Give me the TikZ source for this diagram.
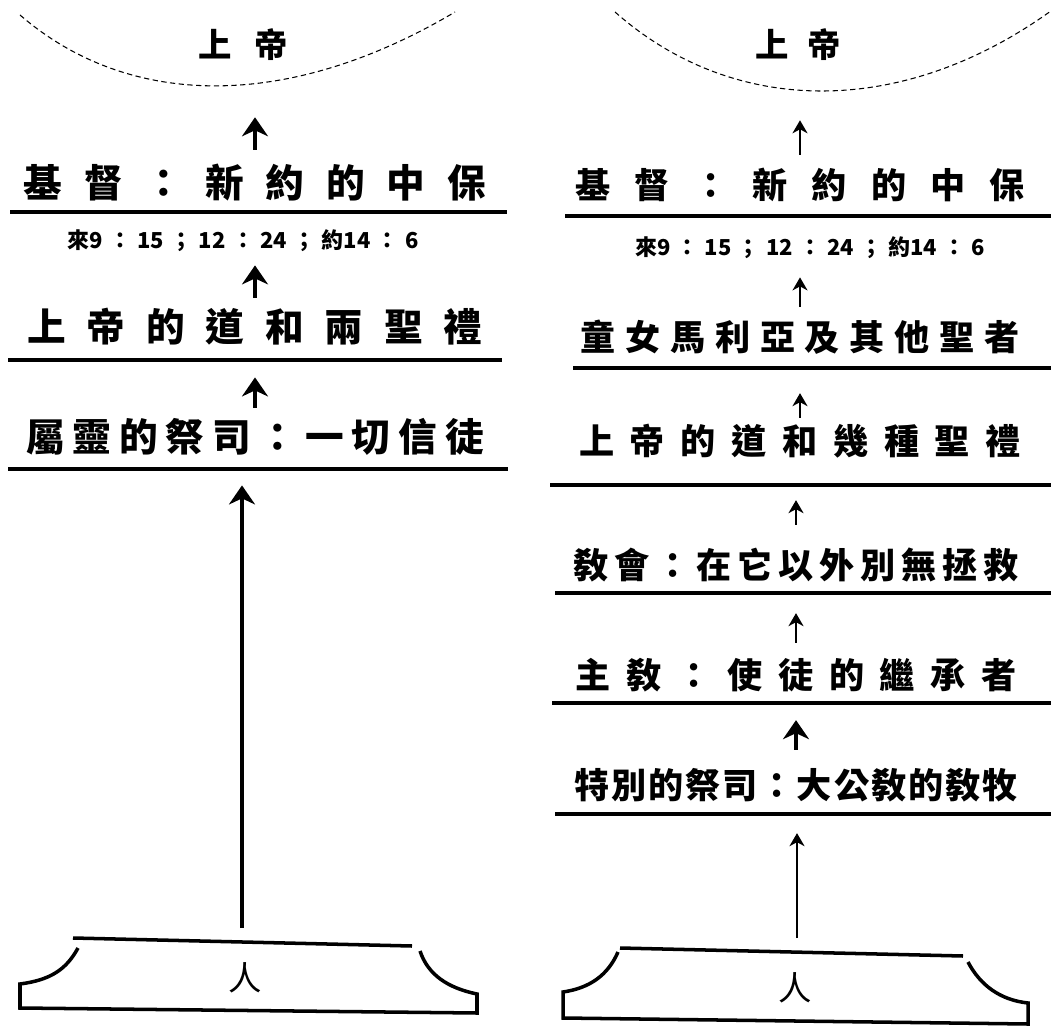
\documentclass[tikz,border=0pt]{standalone}
\usepackage{fontspec}
\newfontfamily\cjk{Noto Sans CJK TC}
\usepackage{tikz}
\usetikzlibrary{arrows.meta, calc}

% spread the glyphs of a line evenly over a given width
\newcommand\spreadline[2]{\makebox[#1][s]{\spreadfirst#2\relax}}
\def\spreadfirst#1{#1\spreadrest}
\def\spreadrest#1{\ifx#1\relax\else\hfil#1\expandafter\spreadrest\fi}

\begin{document}
\begin{tikzpicture}[x=0.02cm, y=-0.02cm,
    godlabel/.style={font=\cjk\bfseries\fontsize{19}{19}\selectfont, inner sep=0pt, text height=15.72pt, text depth=1.28pt},
    bigline/.style={font=\cjk\bfseries\fontsize{22}{22}\selectfont, inner sep=0pt, text height=18.36pt, text depth=1.64pt},
    smallline/.style={font=\cjk\bfseries\fontsize{20}{20}\selectfont, inner sep=0pt, text height=16.6pt, text depth=1.4pt},
    refline/.style={font=\cjk\bfseries\fontsize{12.5}{12.5}\selectfont, inner sep=0pt, text height=10.75pt, text depth=1.25pt},
    manlabel/.style={font=\cjk\fontsize{19}{19}\selectfont, inner sep=0pt},
    heaven/.style={line width=0.6pt, dash pattern=on 3pt off 2pt},
    rule/.style={line width=1.9pt},
    base/.style={line width=2pt, line join=miter},
    upbig/.style={-{Stealth[length=0.38cm, width=0.52cm, inset=0.12cm]}, line width=1.8pt},
    upsmall/.style={-{Stealth[length=0.26cm, width=0.3cm, inset=0.08cm]}, line width=1.2pt}]
  \useasboundingbox (0,0) rectangle (1051,1030);

  % Left column
  \draw[heaven] (20,15) .. controls (130,110) and (290,110) .. (455,12);
  \node[godlabel] (lgod) at (243,45) {\spreadline{1.8cm}{上帝}};
  \node[bigline] (l1) at (255,183) {\spreadline{9.25cm}{基督：新約的中保}};
  \draw[rule] (10,212) -- (507,212);
  \node[refline] (lref) at (243,240) {\makebox[7.02cm][s]{來9\hfil ：\hfil 15\hfil ；\hfil 12\hfil ：\hfil 24\hfil ；\hfil 約14\hfil ：\hfil 6}};
  \node[bigline] (l2) at (255,327) {\spreadline{9.1cm}{上帝的道和兩聖禮}};
  \draw[rule] (8,360) -- (502,360);
  \node[bigline] (l3) at (255,437) {\spreadline{9.15cm}{屬靈的祭司：一切信徒}};
  \draw[rule] (8,469) -- (508,469);
  \draw[upbig, shorten <=0.31cm, shorten >=1.14cm] (l1.north) -- (l1.north |- lgod.south);
  \draw[upbig, shorten <=0.23cm, shorten >=0.29cm] (l2.north) -- (l2.north |- lref.south);
  \draw[upbig, shorten <=0.23cm, shorten >=0.65cm] (l3.north) -- (l3.north |- l2.south);
  % the man
  \draw[base] (73,938) -- (412,946);
  \draw[base] (78,948) .. controls (66,970) and (50,980) .. (20,984) -- (20,1008) -- (477,1013)
    -- (477,994) .. controls (448,988) and (428,975) .. (420,951);
  \node[manlabel] (lman) at (245,978) {人};
  \coordinate (ltop) at (242,928);
  \draw[upbig, shorten >=0.61cm] (ltop) -- (ltop |- l3.south);

  % Right column
  \draw[heaven] (615,12) .. controls (735,118) and (905,118) .. (1055,8);
  \node[godlabel] (rgod) at (798,45) {\spreadline{1.7cm}{上帝}};
  \node[smallline] (r1) at (800,185) {\spreadline{8.98cm}{基督：新約的中保}};
  \draw[rule] (565,216) -- (1051,216);
  \node[refline] (rref) at (810,247) {\makebox[7cm][s]{來9\hfil ：\hfil 15\hfil ；\hfil 12\hfil ：\hfil 24\hfil ；\hfil 約14\hfil ：\hfil 6}};
  \node[smallline] (r2) at (800,337) {\spreadline{8.78cm}{童女馬利亞及其他聖者}};
  \draw[rule] (573,368) -- (1051,368);
  \node[smallline] (r3) at (800,441) {\spreadline{8.84cm}{上帝的道和幾種聖禮}};
  \draw[rule] (550,485) -- (1051,485);
  \node[smallline] (r4) at (796,565) {\spreadline{8.92cm}{敎會：在它以外別無拯救}};
  \draw[rule] (555,593) -- (1051,593);
  \node[smallline] (r5) at (796,675) {\spreadline{8.82cm}{主敎：使徒的繼承者}};
  \draw[rule] (552,703) -- (1051,703);
  \node[smallline] (r6) at (796,785) {\spreadline{8.86cm}{特別的祭司：大公敎的敎牧}};
  \draw[rule] (555,814) -- (1051,814);
  \draw[upsmall, shorten <=0.28cm, shorten >=1.2cm] (r1.north) -- (r1.north |- rgod.south);
  \draw[upsmall, shorten <=0.28cm, shorten >=0.39cm] (r2.north) -- (r2.north |- rref.south);
  \draw[upsmall, shorten <=0.14cm, shorten >=0.8cm] (r3.north) -- (r3.north |- r2.south);
  \draw[upsmall, shorten <=0.48cm, shorten >=0.86cm] (r4.north) -- (r4.north |- r3.south);
  \draw[upsmall, shorten <=0.32cm, shorten >=0.64cm] (r5.north) -- (r5.north |- r4.south);
  \draw[upbig, shorten <=0.38cm, shorten >=0.58cm] (r6.north) -- (r6.north |- r5.south);
  % the man
  \draw[base] (620,948) -- (963,956);
  \draw[base] (618,952) .. controls (608,975) and (590,988) .. (563,992) -- (563,1018) -- (1028,1024)
    -- (1028,1003) .. controls (1000,1000) and (980,985) .. (968,962);
  \node[manlabel] (rman) at (795,988) {人};
  \coordinate (rtop) at (797,938);
  \draw[upsmall, shorten >=0.64cm] (rtop) -- (rtop |- r6.south);
\end{tikzpicture}
\end{document}
